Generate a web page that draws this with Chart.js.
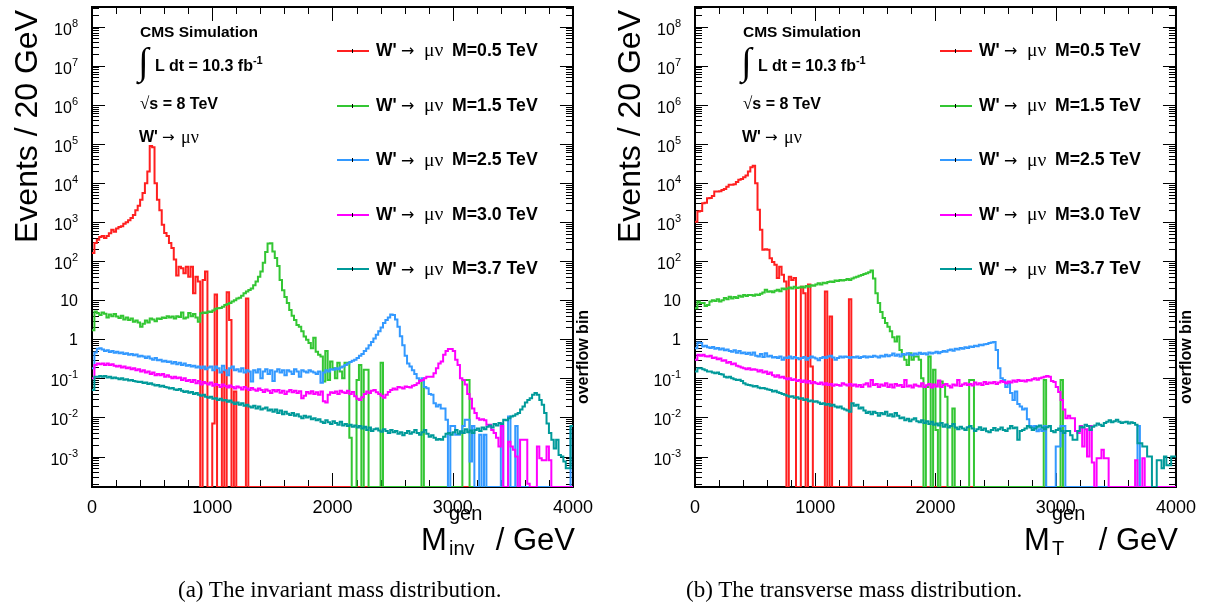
<!DOCTYPE html>
<html>
<head>
<meta charset="utf-8">
<title>W' → μν generator-level mass distributions</title>
<script src="https://cdn.jsdelivr.net/npm/chart.js@4.4.1/dist/chart.umd.min.js"></script>
<style>
  html, body { margin: 0; padding: 0; background: #fff; }
  body { width: 1211px; height: 613px; position: relative; overflow: hidden; }
  .panel { position: absolute; top: 0; width: 603px; height: 613px; }
  .panel canvas { position: absolute; left: 0; top: 0; }
  .t { position: absolute; white-space: nowrap; color: #000;
       font-family: "Liberation Sans", Arial, Helvetica, sans-serif; }
  .sym { font-family: "Liberation Serif", "Times New Roman", serif; font-weight: normal; }
  .arr { font-family: "DejaVu Sans", sans-serif; font-weight: normal; }
  .caption { position: absolute; white-space: nowrap; color: #000;
             font-family: "Liberation Serif", "Times New Roman", serif; font-size: 23px; line-height: 23px; }
  .swatch { position: absolute; width: 32px; height: 2px; }
  .swatch i { position: absolute; left: 15px; top: -1px; width: 1px; height: 4px; background: #000; }
</style>
</head>
<body>
<div class="panel" id="panelA" style="left:0px"><canvas id="chartA" width="603" height="613"></canvas></div>
<div class="panel" id="panelB" style="left:603px"><canvas id="chartB" width="603" height="613"></canvas></div>
<div class="caption" style="left:178px; top:578px">(a) The invariant mass distribution.</div>
<div class="caption" style="left:686px; top:578px">(b) The transverse mass distribution.</div>
<script>
// ---- binning and axis ranges -------------------------------------------
const BIN_WIDTH = 20;            // GeV per bin
const X_MIN = 0, X_MAX = 4000;   // GeV
const xTickValues = [0, 1000, 2000, 3000, 4000];
const X_MINOR_STEP = 200;
const yTickExponents = [-3, -2, -1, 0, 1, 2, 3, 4, 5, 6, 7, 8];
const Y_MIN = Math.pow(10, -3.78);
const Y_MAX = Math.pow(10, 8.5);

// ---- samples ------------------------------------------------------------
const massPoints = ['0.5', '1.5', '2.5', '3.0', '3.7'];   // W' mass in TeV
const seriesColors = ['#ff2020', '#33c633', '#3399ff', '#ff00ff', '#009a9a'];
const seriesLabels = massPoints.map(m => "W' → μν M=" + m + " TeV");

// ---- invariant mass, events per 20 GeV bin (0-4000 GeV, last bin holds overflow)
const invM05 = [
  160, 290, 350, 410, 440, 390, 440, 515, 630, 560, 680, 740, 780, 900, 980, 1100, 1260, 1520, 2000, 2600,
  3700, 5500, 9800, 19500, 88000, 82000, 9800, 3700, 2000, 850, 520, 440, 290, 215, 110, 43, 72, 66, 49, 72,
  40, 72, 15, 40, 30, 0, 33, 54, 0, 0, 0.007, 14, 0, 0, 0.15, 0, 16, 3.1, 0, 0.046,
  0, 0, 0, 0, 11, 0, 0, 0, 0, 0, 0, 0, 0, 0, 0, 0, 0, 0, 0, 0,
  0, 0, 0, 0, 0, 0, 0, 0, 0, 0, 0, 0, 0, 0, 0, 0, 0, 0, 0, 0,
  0, 0, 0, 0, 0, 0, 0, 0, 0, 0, 0, 0, 0, 0, 0, 0, 0, 0, 0, 0,
  0, 0, 0, 0, 0, 0, 0, 0, 0, 0, 0, 0, 0, 0, 0, 0, 0, 0, 0, 0,
  0, 0, 0, 0, 0, 0, 0, 0, 0, 0, 0, 0, 0, 0, 0, 0, 0, 0, 0, 0,
  0, 0, 0, 0, 0, 0, 0, 0, 0, 0, 0, 0, 0, 0, 0, 0, 0, 0, 0, 0,
  0, 0, 0, 0, 0, 0, 0, 0, 0, 0, 0, 0, 0, 0, 0, 0, 0, 0, 0, 0
];
const invM15 = [
  1.7, 5.1, 4.6, 4.2, 4.8, 4.5, 3.6, 4.3, 3.9, 4.4, 3.8, 3.5, 4.0, 3.2, 3.6, 3.1, 3.4, 2.8, 3.0, 2.7,
  2.1, 2.5, 3.0, 2.7, 3.4, 3.2, 2.9, 3.4, 3.3, 3.6, 3.5, 3.9, 3.6, 3.8, 3.4, 3.9, 3.7, 4.8, 3.4, 3.6,
  4.7, 3.9, 4.4, 3.6, 2.8, 4.6, 4.8, 4.7, 5.1, 5.0, 5.4, 6.0, 6.2, 6.3, 6.8, 7.5, 8.0, 8.5, 9.2, 10,
  11, 11.5, 13, 15, 16.6, 18.3, 20, 24, 30, 40, 54, 90, 170, 280, 285, 176, 120, 75, 33, 18,
  12, 8.4, 5.6, 4.0, 3.1, 2.3, 2.1, 1.6, 1.17, 0.97, 0.8, 0.59, 1.1, 0.48, 0.4, 0.36, 0.083, 0.5, 0.09, 0.27,
  0.18, 0.1, 0.25, 0.15, 0.1, 0.25, 0.25, 0.003, 0, 0, 0.09, 0.22, 0, 0.165, 0.165, 0, 0, 0, 0, 0,
  0.25, 0, 0, 0, 0, 0, 0, 0, 0, 0, 0, 0, 0, 0, 0, 0, 0, 0.09, 0, 0,
  0, 0, 0, 0, 0, 0, 0, 0, 0, 0, 0, 0, 0, 0, 0.09, 0.09, 0.09, 0, 0, 0,
  0, 0, 0, 0, 0, 0, 0, 0, 0, 0, 0, 0, 0, 0, 0, 0, 0, 0, 0, 0,
  0, 0, 0, 0, 0, 0, 0, 0, 0, 0, 0, 0, 0, 0, 0, 0, 0, 0, 0, 0
];
const invM25 = [
  0.18, 0.46, 0.57, 0.59, 0.55, 0.5, 0.52, 0.47, 0.5, 0.45, 0.48, 0.44, 0.46, 0.42, 0.44, 0.4, 0.42, 0.39, 0.41, 0.36,
  0.38, 0.36, 0.33, 0.36, 0.32, 0.3, 0.33, 0.29, 0.3, 0.27, 0.28, 0.26, 0.27, 0.24, 0.26, 0.23, 0.25, 0.22, 0.24, 0.21,
  0.22, 0.2, 0.21, 0.19, 0.2, 0.18, 0.2, 0.17, 0.19, 0.2, 0.16, 0.2, 0.18, 0.14, 0.21, 0.16, 0.12, 0.18, 0.2, 0.16,
  0.17, 0.15, 0.18, 0.14, 0.16, 0.15, 0.083, 0.16, 0.14, 0.17, 0.1, 0.15, 0.17, 0.13, 0.16, 0.085, 0.15, 0.17, 0.14, 0.16,
  0.12, 0.16, 0.15, 0.13, 0.17, 0.15, 0.11, 0.16, 0.15, 0.14, 0.16, 0.15, 0.14, 0.13, 0.15, 0.077, 0.14, 0.16, 0.15, 0.17,
  0.165, 0.18, 0.17, 0.19, 0.2, 0.22, 0.24, 0.26, 0.28, 0.3, 0.33, 0.38, 0.42, 0.5, 0.58, 0.7, 0.85, 1.05, 1.3, 1.6,
  2.0, 2.6, 3.1, 3.6, 4.3, 4.2, 3.2, 2.1, 1.2, 0.7, 0.38, 0.24, 0.2, 0.16, 0.13, 0.1, 0.09, 0.1, 0.06, 0.056,
  0.04, 0.038, 0.023, 0.019, 0.021, 0.017, 0.017, 0.0087, 0, 0.006, 0.006, 0.0036, 0.0036, 0.004, 0.006, 0.0087, 0.0087, 0.00075, 0.006, 0,
  0, 0.0036, 0, 0.0036, 0, 0, 0, 0, 0, 0, 0.006, 0, 0, 0.0105, 0, 0, 0.006, 0, 0, 0,
  0, 0, 0, 0, 0, 0, 0, 0, 0, 0, 0, 0, 0, 0, 0, 0, 0, 0, 0, 0.006
];
const invM30 = [
  0.1, 0.22, 0.24, 0.23, 0.24, 0.22, 0.24, 0.22, 0.23, 0.21, 0.2, 0.21, 0.19, 0.2, 0.18, 0.19, 0.17, 0.18, 0.16, 0.17,
  0.15, 0.16, 0.14, 0.15, 0.13, 0.14, 0.12, 0.13, 0.12, 0.13, 0.11, 0.12, 0.11, 0.1, 0.11, 0.1, 0.105, 0.09, 0.1, 0.085,
  0.09, 0.08, 0.09, 0.075, 0.085, 0.07, 0.08, 0.075, 0.07, 0.078, 0.065, 0.072, 0.068, 0.06, 0.07, 0.064, 0.058, 0.066, 0.06, 0.055,
  0.062, 0.058, 0.052, 0.06, 0.055, 0.05, 0.057, 0.052, 0.048, 0.055, 0.05, 0.045, 0.052, 0.048, 0.042, 0.05, 0.046, 0.05, 0.043, 0.048,
  0.04, 0.046, 0.05, 0.044, 0.048, 0.042, 0.047, 0.031, 0.036, 0.045, 0.041, 0.047, 0.04, 0.044, 0.038, 0.046, 0.026, 0.024, 0.038, 0.044,
  0.042, 0.046, 0.04, 0.048, 0.044, 0.042, 0.048, 0.04, 0.045, 0.035, 0.03, 0.028, 0.033, 0.04, 0.046, 0.042, 0.048, 0.05, 0.044, 0.04,
  0.036, 0.032, 0.038, 0.045, 0.05, 0.055, 0.052, 0.06, 0.058, 0.055, 0.062, 0.06, 0.058, 0.065, 0.068, 0.075, 0.085, 0.09, 0.1, 0.11,
  0.11, 0.11, 0.135, 0.18, 0.24, 0.27, 0.4, 0.5, 0.56, 0.56, 0.5, 0.3, 0.22, 0.1, 0.09, 0.07, 0.04, 0.03, 0.017, 0.013,
  0.0095, 0.0087, 0.009, 0.0085, 0.0065, 0.0065, 0.0048, 0.004, 0.003, 0.0018, 0.006, 0, 0, 0.0024, 0.0018, 0.0015, 0.001, 0, 0.0027, 0.0027,
  0.0027, 0.0002, 0, 0, 0, 0.0018, 0.0009, 0.0008, 0.0008, 0.0018, 0.0008, 0, 0, 0, 0, 0, 0, 0, 0, 0
];
const invM37 = [
  0.05, 0.11, 0.11, 0.115, 0.11, 0.115, 0.105, 0.11, 0.1, 0.105, 0.1, 0.095, 0.1, 0.092, 0.095, 0.088, 0.09, 0.085, 0.083, 0.08,
  0.082, 0.076, 0.078, 0.072, 0.075, 0.07, 0.066, 0.068, 0.062, 0.065, 0.06, 0.058, 0.055, 0.057, 0.052, 0.05, 0.053, 0.048, 0.045, 0.047,
  0.043, 0.045, 0.04, 0.042, 0.038, 0.036, 0.038, 0.034, 0.032, 0.034, 0.03, 0.031, 0.028, 0.03, 0.027, 0.028, 0.025, 0.027, 0.024, 0.022,
  0.024, 0.021, 0.023, 0.02, 0.021, 0.019, 0.018, 0.02, 0.017, 0.019, 0.016, 0.017, 0.018, 0.015, 0.016, 0.014, 0.016, 0.013, 0.015, 0.012,
  0.014, 0.0125, 0.0115, 0.013, 0.011, 0.012, 0.0105, 0.0095, 0.011, 0.01, 0.0105, 0.009, 0.0095, 0.0085, 0.009, 0.0078, 0.0072, 0.0085, 0.0075, 0.0068,
  0.008, 0.0072, 0.0065, 0.0078, 0.0062, 0.0068, 0.006, 0.0065, 0.0058, 0.0062, 0.0055, 0.006, 0.0052, 0.0058, 0.0048, 0.0055, 0.0045, 0.005, 0.0052, 0.0046,
  0.0043, 0.005, 0.0045, 0.004, 0.0048, 0.0042, 0.0045, 0.0038, 0.0042, 0.0035, 0.004, 0.0045, 0.0038, 0.0042, 0.0048, 0.004, 0.0036, 0.0042, 0.0048, 0.0038,
  0.0032, 0.0035, 0.003, 0.0027, 0.0028, 0.0027, 0.0032, 0.0038, 0.004, 0.0036, 0.0042, 0.0048, 0.0038, 0.0044, 0.004, 0.005, 0.0042, 0.0046, 0.004, 0.0048,
  0.0052, 0.0045, 0.0055, 0.005, 0.0058, 0.0062, 0.0055, 0.0068, 0.0062, 0.0072, 0.0068, 0.0087, 0.0085, 0.0095, 0.0105, 0.011, 0.012, 0.013, 0.016, 0.019,
  0.024, 0.028, 0.031, 0.038, 0.042, 0.038, 0.028, 0.021, 0.013, 0.007, 0.004, 0.0027, 0.0016, 0.0027, 0.0011, 0.001, 0.00075, 0.0005, 0.0005, 0.006
];

// ---- transverse mass, events per 20 GeV bin (0-4000 GeV, last bin holds overflow)
const mtM05 = [
  1020, 1860, 1900, 3000, 3100, 4050, 4100, 4600, 6000, 6000, 6100, 6600, 7000, 8000, 8900, 8900, 9300, 10500, 12000, 12500,
  14000, 15500, 19500, 25000, 27500, 9800, 2050, 630, 195, 200, 195, 118, 95, 80, 37, 72, 45, 30, 0, 40,
  33, 37, 0, 0, 22, 15, 0, 25, 0.2, 0, 0, 0, 0, 0, 16.6, 0, 3.8, 0, 0, 0,
  0, 0, 0, 0, 10.5, 0, 0, 0, 0, 0, 0, 0, 0, 0, 0, 0, 0, 0, 0, 0,
  0, 0, 0, 0, 0, 0, 0, 0, 0, 0, 0, 0, 0, 0, 0, 0, 0, 0, 0, 0,
  0, 0, 0, 0, 0, 0, 0, 0, 0, 0, 0, 0, 0, 0, 0, 0, 0, 0, 0, 0,
  0, 0, 0, 0, 0, 0, 0, 0, 0, 0, 0, 0, 0, 0, 0, 0, 0, 0, 0, 0,
  0, 0, 0, 0, 0, 0, 0, 0, 0, 0, 0, 0, 0, 0, 0, 0, 0, 0, 0, 0,
  0, 0, 0, 0, 0, 0, 0, 0, 0, 0, 0, 0, 0, 0, 0, 0, 0, 0, 0, 0,
  0, 0, 0, 0, 0, 0, 0, 0, 0, 0, 0, 0, 0, 0, 0, 0, 0, 0, 0, 0
];
const mtM15 = [
  6.2, 9.2, 8.4, 8.4, 7.1, 7.5, 9.2, 10, 9.5, 10.5, 9.2, 10, 11.3, 10.5, 12.3, 11, 12, 11.3, 13, 12.3,
  13.6, 12.8, 13.6, 13.6, 13, 14, 13.6, 14.5, 15.7, 18.4, 16.5, 17, 16, 17.5, 18.4, 17, 20, 19, 20, 21,
  20, 22, 20.5, 21, 22, 21, 23, 22, 24, 23.5, 25, 27, 25, 28, 27, 29, 30, 29, 32, 31,
  33, 32, 33, 35, 33, 36, 38, 40, 42, 44, 47, 49, 52, 57, 36, 15, 8.4, 5, 3.5, 2.6,
  2.1, 1.6, 1.13, 0.87, 1.17, 0.53, 0.4, 0.3, 0.22, 0.44, 0.3, 0.36, 0.36, 0.3, 0.1, 0, 0.06, 0.36, 0, 0.165,
  0.0048, 0, 0.083, 0.07, 0.034, 0, 0, 0.017, 0, 0, 0, 0, 0, 0, 0.09, 0.09, 0, 0, 0, 0,
  0, 0, 0, 0, 0, 0, 0, 0, 0, 0, 0, 0, 0, 0, 0, 0, 0, 0, 0, 0,
  0, 0, 0, 0, 0, 0.09, 0, 0, 0, 0, 0, 0, 0.09, 0, 0, 0, 0, 0, 0, 0,
  0, 0, 0, 0, 0, 0, 0, 0, 0, 0, 0, 0, 0, 0, 0, 0, 0, 0, 0, 0,
  0, 0, 0, 0, 0, 0, 0, 0, 0, 0, 0, 0, 0, 0, 0, 0, 0, 0, 0, 0
];
const mtM25 = [
  0.59, 0.82, 0.8, 0.65, 0.68, 0.62, 0.6, 0.63, 0.57, 0.6, 0.55, 0.58, 0.52, 0.55, 0.5, 0.48, 0.52, 0.45, 0.5, 0.44,
  0.46, 0.42, 0.45, 0.4, 0.46, 0.38, 0.36, 0.42, 0.35, 0.44, 0.36, 0.38, 0.34, 0.35, 0.33, 0.36, 0.3, 0.34, 0.33, 0.36,
  0.32, 0.35, 0.33, 0.31, 0.33, 0.35, 0.3, 0.33, 0.36, 0.34, 0.32, 0.29, 0.33, 0.35, 0.33, 0.36, 0.38, 0.34, 0.3, 0.33,
  0.36, 0.34, 0.36, 0.35, 0.33, 0.35, 0.34, 0.36, 0.33, 0.35, 0.37, 0.34, 0.36, 0.35, 0.38, 0.36, 0.34, 0.38, 0.36, 0.4,
  0.37, 0.39, 0.43, 0.38, 0.41, 0.36, 0.42, 0.4, 0.44, 0.41, 0.39, 0.43, 0.41, 0.45, 0.42, 0.44, 0.41, 0.46, 0.43, 0.45,
  0.48, 0.44, 0.47, 0.5, 0.48, 0.52, 0.55, 0.51, 0.57, 0.55, 0.6, 0.57, 0.62, 0.6, 0.65, 0.63, 0.68, 0.66, 0.72, 0.7,
  0.74, 0.76, 0.8, 0.82, 0.85, 0.53, 0.18, 0.1, 0.09, 0.06, 0.075, 0.042, 0.028, 0.046, 0.022, 0.019, 0.016, 0.017, 0.009, 0.006,
  0.0055, 0.006, 0.0044, 0.005, 0.0045, 0.006, 0, 0, 0, 0, 0.0018, 0.0018, 0.006, 0.006, 0, 0, 0, 0, 0, 0,
  0, 0, 0, 0, 0, 0, 0, 0, 0, 0, 0, 0, 0, 0, 0, 0, 0, 0, 0, 0,
  0, 0, 0, 0, 0.006, 0, 0, 0, 0, 0, 0, 0, 0, 0, 0, 0, 0, 0, 0, 0
];
const mtM30 = [
  0.3, 0.4, 0.38, 0.4, 0.37, 0.36, 0.38, 0.33, 0.34, 0.31, 0.32, 0.28, 0.29, 0.25, 0.26, 0.23, 0.24, 0.21, 0.2, 0.19,
  0.18, 0.17, 0.18, 0.165, 0.17, 0.165, 0.15, 0.16, 0.14, 0.15, 0.13, 0.14, 0.12, 0.11, 0.12, 0.105, 0.11, 0.1, 0.095, 0.1,
  0.09, 0.095, 0.085, 0.09, 0.08, 0.088, 0.078, 0.085, 0.075, 0.08, 0.075, 0.072, 0.078, 0.07, 0.075, 0.068, 0.072, 0.065, 0.07, 0.068,
  0.065, 0.075, 0.07, 0.066, 0.072, 0.065, 0.07, 0.062, 0.068, 0.06, 0.07, 0.075, 0.062, 0.09, 0.068, 0.072, 0.06, 0.07, 0.065, 0.075,
  0.06, 0.07, 0.058, 0.072, 0.065, 0.068, 0.06, 0.09, 0.062, 0.066, 0.058, 0.07, 0.065, 0.062, 0.075, 0.06, 0.067, 0.072, 0.058, 0.07,
  0.062, 0.088, 0.06, 0.068, 0.072, 0.065, 0.058, 0.07, 0.066, 0.09, 0.064, 0.07, 0.075, 0.068, 0.072, 0.066, 0.078, 0.07, 0.075, 0.068,
  0.08, 0.072, 0.078, 0.075, 0.08, 0.072, 0.078, 0.085, 0.08, 0.075, 0.083, 0.078, 0.088, 0.082, 0.09, 0.085, 0.088, 0.083, 0.09, 0.088,
  0.095, 0.1, 0.092, 0.1, 0.105, 0.11, 0.115, 0.11, 0.085, 0.08, 0.06, 0.045, 0.028, 0.016, 0.0095, 0.011, 0.0095, 0.0095, 0.0045, 0.004,
  0.006, 0.0018, 0.005, 0.001, 0.006, 0.0007, 0, 0.0009, 0.0009, 0.0015, 0.0009, 0.0009, 0, 0, 0, 0, 0, 0, 0, 0,
  0, 0, 0, 0.0008, 0, 0, 0.0009, 0, 0, 0, 0, 0, 0, 0, 0, 0, 0, 0, 0, 0
];
const mtM37 = [
  0.15, 0.18, 0.18, 0.17, 0.16, 0.15, 0.15, 0.14, 0.135, 0.14, 0.13, 0.125, 0.11, 0.105, 0.11, 0.1, 0.095, 0.09, 0.092, 0.085,
  0.075, 0.07, 0.068, 0.066, 0.062, 0.064, 0.058, 0.056, 0.057, 0.054, 0.052, 0.05, 0.046, 0.048, 0.044, 0.042, 0.04, 0.038, 0.036, 0.034,
  0.035, 0.032, 0.033, 0.03, 0.031, 0.028, 0.029, 0.026, 0.027, 0.025, 0.026, 0.024, 0.022, 0.023, 0.021, 0.022, 0.02, 0.021, 0.019, 0.018,
  0.019, 0.017, 0.016, 0.015, 0.014, 0.023, 0.02, 0.021, 0.017, 0.018, 0.015, 0.013, 0.014, 0.012, 0.014, 0.013, 0.011, 0.013, 0.012, 0.014,
  0.011, 0.012, 0.0105, 0.013, 0.011, 0.0095, 0.01, 0.0085, 0.0092, 0.008, 0.0088, 0.0095, 0.008, 0.0075, 0.0085, 0.0072, 0.008, 0.0068, 0.0078, 0.0065,
  0.007, 0.0062, 0.0072, 0.0058, 0.0066, 0.0055, 0.006, 0.0068, 0.0055, 0.005, 0.0058, 0.0052, 0.0048, 0.0056, 0.006, 0.0052, 0.0045, 0.005, 0.0056, 0.0048,
  0.0052, 0.0044, 0.0042, 0.0048, 0.0054, 0.0046, 0.005, 0.0055, 0.0048, 0.0045, 0.0052, 0.006, 0.0053, 0.0055, 0.0027, 0.0045, 0.0048, 0.0052, 0.006, 0.0055,
  0.0048, 0.0052, 0.0058, 0.0062, 0.0055, 0.005, 0.0056, 0.006, 0.0045, 0.0042, 0.0048, 0.0052, 0.0045, 0.004, 0.0045, 0.0045, 0.0035, 0.0027, 0.0027, 0.0045,
  0.0058, 0.0055, 0.0065, 0.006, 0.0048, 0.0058, 0.0062, 0.007, 0.0065, 0.006, 0.0072, 0.0078, 0.0085, 0.0075, 0.008, 0.0087, 0.0078, 0.0072, 0.0075, 0.0078,
  0.007, 0.0075, 0.0072, 0.0065, 0.0022, 0.0022, 0.0018, 0.0018, 0.001, 0.001, 0, 0, 0.0008, 0.0008, 0.0005, 0.001, 0.0006, 0.0006, 0.001, 0.001
];

// ---- drawing ------------------------------------------------------------
const SANS = '"Liberation Sans", Arial, Helvetica, sans-serif';
const SERIF = '"Liberation Serif", "Times New Roman", serif';
const ARROW_FONT = '"DejaVu Sans", sans-serif';
const PANEL_W = 603;
const Y_LABEL_RIGHT = 78;

// Bin contents -> step points on the bin edges; empty bins sit on the lower frame edge.
function histPoints(values) {
  const pts = values.map((v, i) => ({ x: X_MIN + i * BIN_WIDTH, y: v > 0 ? v : Y_MIN }));
  pts.push({ x: X_MIN + values.length * BIN_WIDTH, y: pts[pts.length - 1].y });
  return pts;
}

// Frame with inward ticks on all four sides, plus the 10^n decade labels.
const frameAndTicks = {
  id: 'frameAndTicks',
  beforeDatasetsDraw(chart) {
    const { ctx, chartArea: a, scales: { x, y } } = chart;
    ctx.save();
    ctx.strokeStyle = '#000';
    ctx.lineWidth = 1;
    ctx.beginPath();
    for (let v = X_MIN; v <= X_MAX; v += X_MINOR_STEP) {
      const px = Math.round(x.getPixelForValue(v)) + 0.5;
      const len = xTickValues.includes(v) ? 14 : 7;
      ctx.moveTo(px, a.bottom); ctx.lineTo(px, a.bottom - len);
      ctx.moveTo(px, a.top); ctx.lineTo(px, a.top + len);
    }
    const eLo = Math.floor(Math.log10(Y_MIN)), eHi = Math.ceil(Math.log10(Y_MAX));
    for (let e = eLo; e <= eHi; e++) {
      for (let m = 1; m <= 9; m++) {
        const v = m * Math.pow(10, e);
        if (v < Y_MIN || v > Y_MAX) continue;
        const py = Math.round(y.getPixelForValue(v)) + 0.5;
        const len = m === 1 ? 13 : 7;
        ctx.moveTo(a.left, py); ctx.lineTo(a.left + len, py);
        ctx.moveTo(a.right, py); ctx.lineTo(a.right - len, py);
      }
    }
    ctx.stroke();
    ctx.lineWidth = 2;
    ctx.strokeRect(a.left, a.top, a.right - a.left, a.bottom - a.top);

    ctx.fillStyle = '#000';
    ctx.textBaseline = 'alphabetic';
    ctx.textAlign = 'left';
    for (const t of y.ticks) {
      const e = Math.round(Math.log10(t.value));
      const py = y.getPixelForValue(t.value);
      const base = e === 0 ? '1' : '10';
      const expo = (e === 0 || e === 1) ? '' : String(e);
      ctx.font = '16px ' + SANS;
      const wb = ctx.measureText(base).width;
      ctx.font = '11px ' + SANS;
      const we = expo ? ctx.measureText(expo).width : 0;
      const x0 = Y_LABEL_RIGHT - wb - we;
      const baseLine = py + (expo ? 8 : 6);
      ctx.font = '16px ' + SANS;
      ctx.fillText(base, x0, baseLine);
      if (expo) {
        ctx.font = '11px ' + SANS;
        ctx.fillText(expo, x0 + wb, baseLine - 8);
      }
    }
    ctx.restore();
  }
};

function makeChart(canvasId, seriesValues) {
  return new Chart(document.getElementById(canvasId), {
    type: 'line',
    data: {
      datasets: seriesValues.map((vals, k) => ({
        label: seriesLabels[k],
        data: histPoints(vals),
        borderColor: seriesColors[k],
        backgroundColor: seriesColors[k],
        borderWidth: 2,
        stepped: true,
        pointRadius: 0,
        fill: false,
        order: seriesValues.length - k
      }))
    },
    options: {
      responsive: false,
      animation: false,
      events: [],
      layout: { padding: { left: 0, right: 29, top: 7, bottom: 0 } },
      plugins: { legend: { display: false }, tooltip: { enabled: false } },
      scales: {
        x: {
          type: 'linear', min: X_MIN, max: X_MAX,
          grid: { display: false, drawTicks: false },
          border: { display: false },
          afterBuildTicks: s => { s.ticks = xTickValues.map(v => ({ value: v })); },
          afterFit: s => { s.height = 126; },
          ticks: {
            color: '#000', padding: 10, maxRotation: 0, autoSkip: false,
            font: { family: SANS, size: 18 },
            callback: v => String(v)
          }
        },
        y: {
          type: 'logarithmic', min: Y_MIN, max: Y_MAX,
          grid: { display: false, drawTicks: false },
          border: { display: false },
          afterBuildTicks: s => { s.ticks = yTickExponents.map(e => ({ value: Math.pow(10, e) })); },
          afterFit: s => { s.width = 92; },
          ticks: { display: false }
        }
      }
    },
    plugins: [frameAndTicks]
  });
}

// Text placed by its baseline (line-height equals the font size).
function put(panel, html, o) {
  const d = document.createElement('div');
  d.className = 't';
  d.innerHTML = html;
  d.style.fontSize = o.size + 'px';
  d.style.lineHeight = o.size + 'px';
  if (o.bold) d.style.fontWeight = 'bold';
  if (o.family) d.style.fontFamily = o.family;
  d.style.top = (o.base - (o.asc || 0.8465) * o.size) + 'px';
  if (o.right !== undefined) d.style.right = (PANEL_W - o.right) + 'px';
  else d.style.left = o.x + 'px';
  panel.appendChild(d);
  return d;
}

function decorate(panelId, chart, xSub) {
  const panel = document.getElementById(panelId);

  // y-axis title, rotated, right end at the top of the frame
  const yt = document.createElement('div');
  yt.className = 't';
  yt.textContent = 'Events / 20 GeV';
  Object.assign(yt.style, {
    left: '0px', top: '0px', width: '300px', height: '32px', textAlign: 'right',
    fontSize: '32px', lineHeight: '32px', transformOrigin: '0 0',
    transform: 'translate(10px, 310px) rotate(-90deg)'
  });
  panel.appendChild(yt);

  // x-axis title
  put(panel, 'M', { x: 421, base: 550, size: 31 });
  put(panel, 'gen', { x: 449, base: 520, size: 20 });
  put(panel, xSub, { x: 449, base: 555, size: 20 });
  put(panel, '/ GeV', { right: 575, base: 550, size: 31 });

  // overflow note along the right edge
  const ov = document.createElement('div');
  ov.className = 't';
  ov.textContent = 'overflow bin';
  Object.assign(ov.style, {
    left: (583 - 60) + 'px', top: (357 - 8) + 'px', width: '120px', height: '16px',
    textAlign: 'center', fontSize: '16px', lineHeight: '16px', fontWeight: 'bold',
    transform: 'rotate(-90deg)'
  });
  panel.appendChild(ov);

  // experiment labels
  put(panel, 'CMS Simulation', { x: 140, base: 37, size: 15.5, bold: true });
  put(panel, '∫', { x: 138, base: 74, size: 38, family: SERIF, asc: 0.8375 });
  put(panel, 'L dt = 10.3 fb<span style="font-size:11px; position:relative; top:-7px">-1</span>',
      { x: 155, base: 72, size: 16, bold: true });
  put(panel, '<span class="sym" style="font-size:17px">√</span>s = 8 TeV', { x: 140, base: 110, size: 16, bold: true });
  put(panel, "W'", { x: 139, base: 143, size: 16, bold: true });
  put(panel, '→', { x: 162, base: 143, size: 15, family: ARROW_FONT });
  put(panel, 'μν', { x: 181, base: 143, size: 18, family: SERIF });

  // legend built from the chart's datasets: "W' → μν M=… TeV"
  chart.data.datasets.forEach((ds, k) => {
    const base = 57 + 54.6 * k;
    const sw = document.createElement('div');
    sw.className = 'swatch';
    sw.style.left = '337px';
    sw.style.top = (base - 7) + 'px';
    sw.style.background = ds.borderColor;
    sw.appendChild(document.createElement('i'));
    panel.appendChild(sw);
    const [lead, tail] = ds.label.split(' → μν ');
    put(panel, lead, { x: 376, base: base, size: 17.5, bold: true });
    put(panel, '→', { x: 401, base: base, size: 16, family: ARROW_FONT });
    put(panel, 'μν', { x: 424, base: base, size: 19.5, family: SERIF });
    put(panel, tail, { x: 452, base: base, size: 17.7, bold: true });
  });
}

const chartA = makeChart('chartA', [invM05, invM15, invM25, invM30, invM37]);
const chartB = makeChart('chartB', [mtM05, mtM15, mtM25, mtM30, mtM37]);
decorate('panelA', chartA, 'inv');
decorate('panelB', chartB, 'T');
</script>
</body>
</html>
